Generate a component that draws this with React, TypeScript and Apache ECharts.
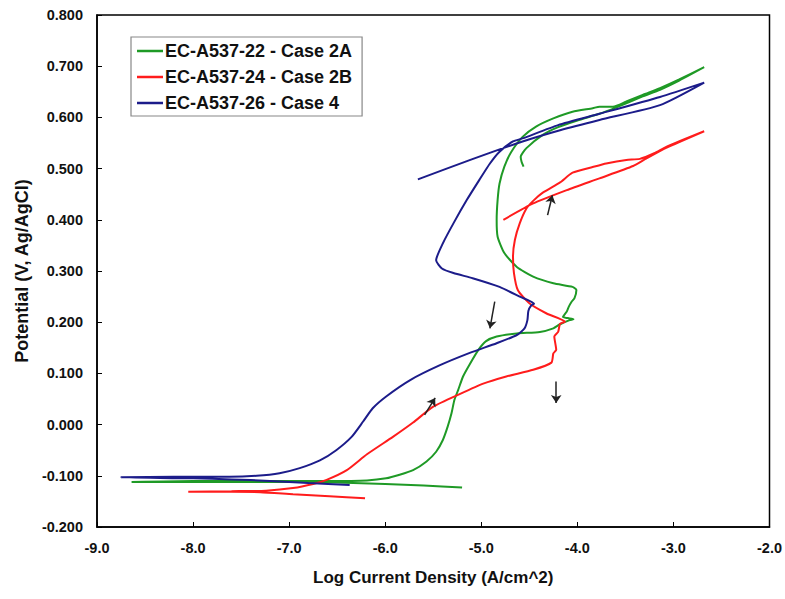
import React, { useEffect, useRef } from "react";
import * as echarts from "echarts";

// Tick definitions
const xMin = -9;
const xMax = -2;
const xStep = 1;
const yMin = -0.2;
const yMax = 0.8;
const yStep = 0.1;

const seriesNames = ["EC-A537-22 - Case 2A", "EC-A537-24 - Case 2B", "EC-A537-26 - Case 4"];
const seriesColors = ["#1f9a26", "#ff1c1c", "#1c1c8a"];

// EC-A537-22 - Case 2A  [log i, E]
const case2A: [number, number][] = [
  [-5.2, -0.123], [-5.6, -0.119], [-6.0, -0.116], [-6.5, -0.113], [-7.0, -0.112], [-7.5, -0.112],
  [-8.0, -0.112], [-8.64, -0.112], [-8.0, -0.11], [-7.5, -0.11], [-7.0, -0.11], [-6.6, -0.11],
  [-6.19, -0.109], [-5.99, -0.105], [-5.85, -0.098], [-5.71, -0.089], [-5.57, -0.072], [-5.47, -0.053],
  [-5.4, -0.03], [-5.35, -0.004], [-5.31, 0.022], [-5.28, 0.048], [-5.24, 0.068], [-5.19, 0.094],
  [-5.12, 0.118], [-5.03, 0.146], [-4.95, 0.163], [-4.84, 0.172], [-4.63, 0.178], [-4.39, 0.181],
  [-4.25, 0.188], [-4.18, 0.196], [-4.08, 0.204], [-4.04, 0.206], [-4.1, 0.208], [-4.15, 0.21],
  [-4.11, 0.221], [-4.09, 0.23], [-4.06, 0.24], [-4.03, 0.247], [-4.01, 0.263], [-4.05, 0.269],
  [-4.25, 0.276], [-4.46, 0.289], [-4.63, 0.308], [-4.76, 0.335], [-4.83, 0.367], [-4.84, 0.4],
  [-4.83, 0.439], [-4.81, 0.471], [-4.76, 0.504], [-4.69, 0.532], [-4.57, 0.562], [-4.43, 0.582],
  [-4.25, 0.598], [-4.05, 0.611], [-3.84, 0.618], [-3.77, 0.621], [-3.63, 0.621], [-3.49, 0.631],
  [-3.32, 0.644], [-3.14, 0.657], [-2.94, 0.674], [-2.68, 0.698],
  [-2.94, 0.672], [-3.14, 0.654], [-3.32, 0.641], [-3.6, 0.619], [-3.77, 0.607], [-4.0, 0.594],
  [-4.2, 0.581], [-4.36, 0.566], [-4.53, 0.54], [-4.59, 0.523], [-4.58, 0.513], [-4.56, 0.504],
];

// EC-A537-24 - Case 2B
const case2B: [number, number][] = [
  [-6.21, -0.144], [-6.58, -0.14], [-6.96, -0.136], [-7.3, -0.132], [-7.6, -0.131], [-8.05, -0.131],
  [-7.6, -0.13], [-7.24, -0.129], [-6.96, -0.124], [-6.75, -0.116], [-6.61, -0.108], [-6.4, -0.089],
  [-6.19, -0.058], [-5.92, -0.024], [-5.71, 0.004], [-5.5, 0.035], [-5.22, 0.06], [-4.98, 0.08],
  [-4.74, 0.094], [-4.46, 0.107], [-4.27, 0.121], [-4.25, 0.139], [-4.22, 0.146], [-4.24, 0.172],
  [-4.2, 0.181], [-4.18, 0.197], [-4.13, 0.201], [-4.32, 0.217], [-4.5, 0.237], [-4.62, 0.263],
  [-4.66, 0.296], [-4.67, 0.328], [-4.65, 0.361], [-4.6, 0.393], [-4.53, 0.422], [-4.46, 0.437],
  [-4.36, 0.453], [-4.18, 0.473], [-4.05, 0.492], [-3.84, 0.503], [-3.7, 0.51], [-3.49, 0.517],
  [-3.35, 0.519], [-3.2, 0.53], [-3.07, 0.543], [-2.68, 0.573],
  [-3.07, 0.541], [-3.28, 0.52], [-3.42, 0.505], [-3.77, 0.481], [-4.11, 0.458], [-4.46, 0.432],
  [-4.77, 0.4],
];

// EC-A537-26 - Case 4
const case4: [number, number][] = [
  [-6.37, -0.118], [-6.8, -0.114], [-7.2, -0.11], [-7.6, -0.107], [-8.0, -0.105], [-8.75, -0.103],
  [-8.2, -0.102], [-7.62, -0.102], [-7.34, -0.1], [-7.1, -0.095], [-6.89, -0.085], [-6.68, -0.07],
  [-6.51, -0.05], [-6.35, -0.024], [-6.23, 0.006], [-6.13, 0.032], [-5.99, 0.055], [-5.74, 0.087],
  [-5.43, 0.116], [-5.12, 0.14], [-4.84, 0.159], [-4.63, 0.175], [-4.55, 0.188], [-4.52, 0.204],
  [-4.51, 0.222], [-4.48, 0.233], [-4.45, 0.236], [-4.6, 0.25], [-4.81, 0.269], [-5.09, 0.286],
  [-5.29, 0.296], [-5.41, 0.305], [-5.47, 0.321], [-5.4, 0.354], [-5.29, 0.393], [-5.15, 0.439],
  [-5.02, 0.478], [-4.91, 0.51], [-4.81, 0.533], [-4.67, 0.553], [-4.57, 0.559], [-4.2, 0.585],
  [-3.77, 0.607], [-3.14, 0.64], [-2.68, 0.668],
  [-3.14, 0.624], [-3.77, 0.595], [-4.18, 0.575], [-4.57, 0.553], [-5.1, 0.518], [-5.66, 0.479],
];

// Scan-direction arrows: [tail, head]
const arrows: [[number, number], [number, number]][] = [
  [[-5.59, 0.019], [-5.48, 0.052]],
  [[-4.86, 0.24], [-4.91, 0.188]],
  [[-4.22, 0.084], [-4.22, 0.042]],
  [[-4.31, 0.409], [-4.26, 0.448]],
];

const seriesData = [case2A, case2B, case4];

const FONT = '"Liberation Sans", Arial, Helvetica, sans-serif';

export default function App() {
  const ref = useRef<HTMLDivElement>(null);
  useEffect(() => {
    if (!ref.current) return;
    const chart = echarts.init(ref.current, undefined, { renderer: "svg" });
    chart.setOption({
      animation: false,
      backgroundColor: "#fff",
      grid: {
        left: 97,
        right: 15,
        top: 15,
        bottom: 72,
        show: true,
        borderColor: "#000",
        borderWidth: 1.5,
      },
      legend: {
        data: seriesNames,
        orient: "vertical",
        left: 131,
        top: 37,
        padding: [5, 10, 4, 6],
        itemGap: 8,
        icon: "rect",
        itemWidth: 26,
        itemHeight: 2.5,
        borderColor: "#888",
        borderWidth: 1.2,
        backgroundColor: "#fff",
        textStyle: {
          fontFamily: FONT,
          fontWeight: "bold",
          fontSize: 18,
          lineHeight: 18,
          color: "#111",
          padding: [0, 0, 0, -3],
        },
      },
      xAxis: {
        type: "value",
        min: xMin,
        max: xMax,
        interval: xStep,
        name: "Log Current Density (A/cm^2)",
        nameLocation: "middle",
        nameGap: 42,
        nameTextStyle: { fontFamily: FONT, fontWeight: "bold", fontSize: 17, color: "#111" },
        axisLine: { show: true, onZero: false, lineStyle: { color: "#000", width: 1.5 } },
        axisTick: { show: true, inside: true, length: 5, lineStyle: { color: "#000" } },
        axisLabel: {
          fontFamily: FONT,
          fontWeight: "bold",
          fontSize: 14.5,
          color: "#111",
          margin: 13,
          formatter: (v: number) => v.toFixed(1),
        },
        splitLine: { show: false },
      },
      yAxis: {
        type: "value",
        min: yMin,
        max: yMax,
        interval: yStep,
        name: "Potential (V, Ag/AgCl)",
        nameLocation: "middle",
        nameGap: 64,
        nameTextStyle: { fontFamily: FONT, fontWeight: "bold", fontSize: 18, color: "#111" },
        axisLine: { show: true, onZero: false, lineStyle: { color: "#000", width: 1.5 } },
        axisTick: { show: true, inside: true, length: 5, lineStyle: { color: "#000" } },
        axisLabel: {
          fontFamily: FONT,
          fontWeight: "bold",
          fontSize: 14.5,
          color: "#111",
          margin: 14,
          formatter: (v: number) => v.toFixed(3),
        },
        splitLine: { show: false },
      },
      series: [
        ...seriesData.map((d, i) => ({
          name: seriesNames[i],
          type: "line",
          data: d,
          symbol: "none",
          showSymbol: false,
          smooth: 0.2,
          lineStyle: { color: seriesColors[i], width: 2 },
          itemStyle: { color: seriesColors[i] },
          z: 2 + i,
        })),
        {
          name: "arrows",
          type: "lines",
          coordinateSystem: "cartesian2d",
          symbol: ["none", "arrow"],
          symbolSize: 8,
          lineStyle: { color: "#222", width: 1.5, opacity: 1 },
          data: arrows.map((a) => ({ coords: a })),
          z: 10,
        },
      ],
    });
    return () => chart.dispose();
  }, []);
  return (
    <div
      ref={ref}
      style={{ position: "fixed", left: 0, top: 0, width: 785, height: 599, background: "#fff" }}
    />
  );
}
